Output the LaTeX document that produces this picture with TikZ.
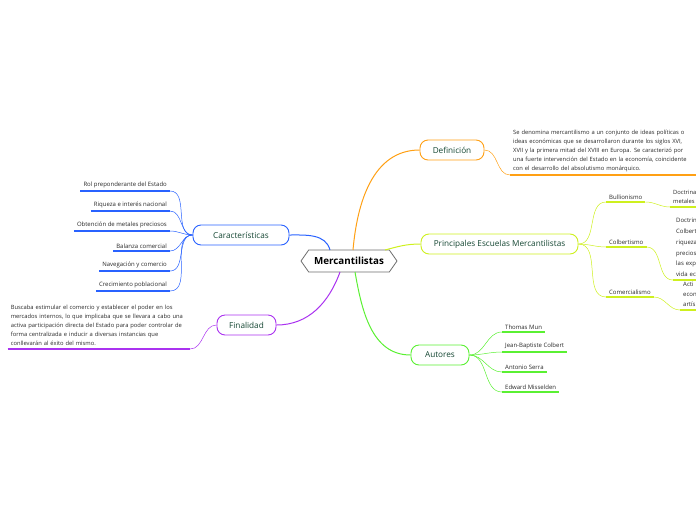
\documentclass[tikz,border=0pt]{standalone}
\usepackage{fontspec}
\setmainfont{Open Sans}
\usetikzlibrary{shapes.symbols, positioning, calc}
\definecolor{cblue}{RGB}{41,98,255}
\definecolor{corange}{RGB}{255,160,20}
\definecolor{clime}{RGB}{206,240,30}
\definecolor{cgreen}{RGB}{90,240,50}
\definecolor{cpurple}{RGB}{170,50,240}
\definecolor{cgray}{RGB}{110,110,110}
\definecolor{ctitle}{RGB}{20,70,50}
\definecolor{cleaf}{RGB}{40,40,40}

\begin{document}
\begin{tikzpicture}[
    x=1pt, y=-1pt,
    central/.style={signal, signal to=west and east, signal pointer angle=110, draw=cgray, line width=0.8pt, fill=white, minimum width=96pt, minimum height=22pt, inner xsep=4pt, font=\fontsize{9.8}{11}\selectfont\bfseries},
    topic/.style={rectangle, rounded corners=8pt, draw, line width=0.9pt, fill=white, minimum height=20pt, inner xsep=4pt, text=ctitle, font=\fontsize{8.2}{9}\selectfont},
    leaf/.style={inner xsep=3pt, inner ysep=2.5pt, text=cleaf, font=\fontsize{6}{7}\selectfont},
    para/.style={inner xsep=3pt, inner ysep=3pt, align=left, text=cleaf, font=\fontsize{5.8}{9}\selectfont},
    link/.style={line width=1pt},
    twig/.style={line width=0.5pt},
    uline/.style={line width=1.4pt}
]
\useasboundingbox (0,0) rectangle (696,520);

% Main nodes
\node (mc) [central] at (349,261) {Mercantilistas};
\node (defi) [topic, draw=corange, minimum width=64pt] at (452,150) {Definición};
\node (prin) [topic, draw=clime, minimum width=157pt] at (499.5,244) {Principales Escuelas Mercantilistas};
\node (carac) [topic, draw=cblue, minimum width=96pt] at (241,235) {Características};
\node (fin) [topic, draw=cpurple, minimum width=59pt] at (246.5,325) {Finalidad};
\node (aut) [topic, draw=cgreen, minimum width=58pt] at (440,355) {Autores};

% Definicion
\node (defitxt) [para, anchor=south west, text width=180pt] at (510,175) {Se denomina mercantilismo a un conjunto de ideas políticas o\\ideas económicas que se desarrollaron durante los siglos XVI,\\XVII y la primera mitad del XVIII en Europa. Se caracterizó por\\una fuerte intervención del Estado en la economía, coincidente\\con el desarrollo del absolutismo monárquico.};

% Finalidad
\node (fintxt) [para, anchor=south east, text width=176pt] at (190,349) {Buscaba estimular el comercio y establecer el poder en los\\mercados internos, lo que implicaba que se llevara a cabo una\\activa participación directa del Estado para poder controlar de\\forma centralizada e inducir a diversas instancias que\\conllevarán al éxito del mismo.};

% Caracteristicas
\node (rol) [leaf, anchor=south east] at (170,191) {Rol preponderante del Estado};
\node (riq) [leaf, anchor=south east] at (170,211) {Riqueza e interés nacional};
\node (obt) [leaf, anchor=south east] at (170,231) {Obtención de metales preciosos};
\node (bal) [leaf, anchor=south east] at (170,251) {Balanza comercial};
\node (nav) [leaf, anchor=south east] at (170,271) {Navegación y comercio};
\node (cre) [leaf, anchor=south east] at (170,291) {Crecimiento poblacional};

% Autores
\node (mun) [leaf, anchor=south west] at (502,332) {Thomas Mun};
\node (col) [leaf, anchor=south west] at (502,352) {Jean-Baptiste Colbert};
\node (ser) [leaf, anchor=south west] at (502,372) {Antonio Serra};
\node (mis) [leaf, anchor=south west] at (502,392) {Edward Misselden};

% Escuelas
\node (bull) [leaf, anchor=south west] at (606,202) {Bullionismo};
\node (colb) [leaf, anchor=south west] at (606,247) {Colbertismo};
\node (come) [leaf, anchor=south west] at (606,297) {Comercialismo};
\node (bulltxt) [para, anchor=south west, text width=40pt, font=\fontsize{5.8}{9.5}\selectfont] at (670,207) {Doctrina\\metales};
\node (colbtxt) [para, anchor=south west, text width=40pt, font=\fontsize{6}{10.8}\selectfont] at (673,280) {Doctrina\\Colbert\\riqueza\\preciosos\\las expo\\vida eco};
\node (cometxt) [para, anchor=south west, text width=40pt, font=\fontsize{6}{10}\selectfont] at (680,310) {Acti\\econ\\artís};

% Underlines
\draw [uline, corange] (defitxt.south west) -- (defitxt.south east);
\draw [uline, cpurple] (fintxt.south west) -- (fintxt.south east);
\foreach \n in {rol, riq, obt, bal, nav, cre}
    \draw [uline, cblue] (\n.south west) -- (\n.south east);
\foreach \n in {mun, col, ser, mis}
    \draw [uline, cgreen] (\n.south west) -- (\n.south east);
\foreach \n in {bull, colb, come, bulltxt, colbtxt, cometxt}
    \draw [uline, clime] (\n.south west) -- (\n.south east);

% Connections
\draw [link, cblue] ($(mc.center)+(-19,-11)$) to[out=105, in=0] (carac.east);
\draw [link, corange] ($(mc.center)+(4,-11)$) to[out=85, in=180] (defi.west);
\draw [link, clime] ($(mc.center)+(36,-11)$) to[out=15, in=180] (prin.west);
\draw [link, cpurple] ($(mc.center)+(-9,11)$) to[out=-110, in=0] (fin.east);
\draw [link, cgreen] ($(mc.center)+(6,11)$) to[out=-80, in=180] (aut.west);

\draw [twig, corange] (defi.east) to[out=0, in=180] (defitxt.south west);
\draw [twig, cpurple] (fin.west) to[out=180, in=0] (fintxt.south east);
\foreach \n in {rol, riq, obt, bal, nav, cre}
    \draw [twig, cblue] (carac.west) to[out=180, in=0] (\n.south east);
\foreach \n in {mun, col, ser, mis}
    \draw [twig, cgreen] (aut.east) to[out=0, in=180] (\n.south west);
\foreach \n in {bull, colb, come}
    \draw [twig, clime] (prin.east) to[out=0, in=180] (\n.south west);
\draw [twig, clime] (bull.south east) to[out=0, in=180] (bulltxt.south west);
\draw [twig, clime] (colb.south east) to[out=0, in=180] (colbtxt.south west);
\draw [twig, clime] (come.south east) to[out=0, in=180] (cometxt.south west);

\end{tikzpicture}
\end{document}
